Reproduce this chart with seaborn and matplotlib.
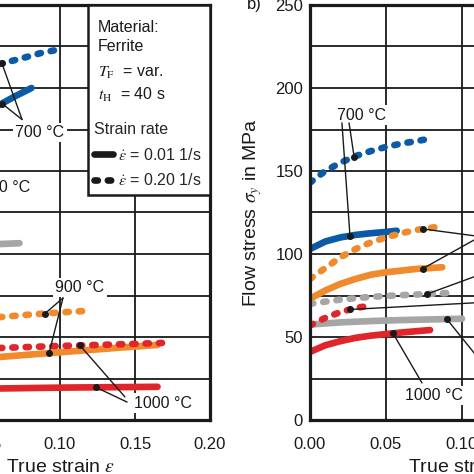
import numpy as np
import pandas as pd
import matplotlib
matplotlib.use("Agg")
import matplotlib.pyplot as plt
from matplotlib.lines import Line2D
from matplotlib.patches import Rectangle
import seaborn as sns

# -------------------------------------------------------------------------
# Datos (strain en -, stress en MPa)
# panel a) (solo visible en parte)
# -------------------------------------------------------------------------
a_eps_700_fast = [0.00, 0.01, 0.02, 0.04, 0.06, 0.073, 0.087, 0.098]
a_sig_700_fast = [175, 190, 198, 208, 214.5, 217.5, 221, 223]
a_eps_700_slow = [0.00, 0.02, 0.04, 0.06, 0.07, 0.081]
a_sig_700_slow = [140, 165, 180, 190, 195, 200]
a_eps_800_slow = [0.00, 0.02, 0.04, 0.06, 0.073]
a_sig_800_slow = [95, 102, 105, 106, 106.5]
a_eps_900_fast = [0.00, 0.02, 0.04, 0.06, 0.08, 0.10, 0.117]
a_sig_900_fast = [50, 56, 59, 62, 63.5, 64.8, 65.7]
a_eps_900_slow = [0.00, 0.02, 0.04, 0.06, 0.10, 0.14, 0.165]
a_sig_900_slow = [28, 33, 36, 38, 40.8, 43.6, 45.2]
a_eps_1000_fast = [0.00, 0.02, 0.05, 0.06, 0.10, 0.14, 0.168]
a_sig_1000_fast = [36, 40, 42.5, 43.4, 44.6, 45.6, 46.4]
a_eps_1000_slow = [0.00, 0.02, 0.06, 0.10, 0.165]
a_sig_1000_slow = [14, 17, 19, 19.5, 20]

# panel b)
b_eps_700_fast = [0.00, 0.01, 0.02, 0.03, 0.04, 0.05, 0.06, 0.07, 0.079]
b_sig_700_fast = [143, 150, 155, 159, 162, 164.5, 166.5, 168, 169.5]
b_eps_700_slow = [0.00, 0.01, 0.02, 0.03, 0.04, 0.05, 0.057]
b_sig_700_slow = [103, 107.5, 110, 111.5, 112.5, 113.3, 114]
b_eps_800_fast = [0.00, 0.01, 0.02, 0.04, 0.06, 0.08, 0.091]
b_sig_800_fast = [70, 71.3, 72.5, 74.2, 75.2, 76, 76.5]
b_eps_800_slow = [0.00, 0.02, 0.04, 0.06, 0.08, 0.10]
b_sig_800_slow = [57.5, 58.8, 59.6, 60.2, 60.6, 61]
b_eps_900_fast = [0.00, 0.01, 0.02, 0.03, 0.04, 0.05, 0.06, 0.07, 0.085]
b_sig_900_fast = [85, 91.5, 98, 103, 107, 110, 112.5, 114.5, 116.5]
b_eps_900_slow = [0.00, 0.01, 0.02, 0.03, 0.04, 0.05, 0.06, 0.07, 0.087]
b_sig_900_slow = [73, 78, 82, 85, 87.5, 89, 90, 91, 92]
b_eps_1000_fast = [0.00, 0.01, 0.02, 0.03, 0.037]
b_sig_1000_fast = [57, 61.5, 65, 67.5, 68.5]
b_eps_1000_slow = [0.00, 0.01, 0.02, 0.03, 0.04, 0.05, 0.06, 0.079]
b_sig_1000_slow = [41, 45, 47.5, 49.5, 50.8, 51.8, 52.7, 54.2]

temperaturas = ["700 °C", "800 °C", "900 °C", "1000 °C"]
colores = ["#0a5aa6", "#a6a6a6", "#f08a2c", "#e1262b"]
rates = ["0.01", "0.20"]
x_ticks = [0.00, 0.05, 0.10, 0.15, 0.20]
y_ticks = [0, 50, 100, 150, 200, 250]

curvas_a = {
    ("700 °C", "0.20"): (a_eps_700_fast, a_sig_700_fast),
    ("700 °C", "0.01"): (a_eps_700_slow, a_sig_700_slow),
    ("800 °C", "0.01"): (a_eps_800_slow, a_sig_800_slow),
    ("900 °C", "0.20"): (a_eps_900_fast, a_sig_900_fast),
    ("900 °C", "0.01"): (a_eps_900_slow, a_sig_900_slow),
    ("1000 °C", "0.20"): (a_eps_1000_fast, a_sig_1000_fast),
    ("1000 °C", "0.01"): (a_eps_1000_slow, a_sig_1000_slow),
}
curvas_b = {
    ("700 °C", "0.20"): (b_eps_700_fast, b_sig_700_fast),
    ("700 °C", "0.01"): (b_eps_700_slow, b_sig_700_slow),
    ("900 °C", "0.20"): (b_eps_900_fast, b_sig_900_fast),
    ("900 °C", "0.01"): (b_eps_900_slow, b_sig_900_slow),
    ("800 °C", "0.20"): (b_eps_800_fast, b_sig_800_fast),
    ("800 °C", "0.01"): (b_eps_800_slow, b_sig_800_slow),
    ("1000 °C", "0.20"): (b_eps_1000_fast, b_sig_1000_fast),
    ("1000 °C", "0.01"): (b_eps_1000_slow, b_sig_1000_slow),
}

# etiquetas: (texto, posición, [(inicio de la línea guía, curva, strain del punto)])
etiquetas_a = [
    ("700 °C", (0.0867, 173), [((0.0747, 181), ("700 °C", "0.20"), 0.0613),
                               ((0.0747, 181), ("700 °C", "0.01"), 0.0613)]),
    ("800 °C", (0.0637, 140), []),
    ("900 °C", (0.1133, 80), [((0.102, 73.5), ("900 °C", "0.20"), 0.090),
                              ((0.102, 73.5), ("900 °C", "0.01"), 0.0927)]),
    ("1000 °C", (0.1687, 10.2), [((0.1433, 13.9), ("1000 °C", "0.20"), 0.1133),
                                 ((0.1447, 10.8), ("1000 °C", "0.01"), 0.124)]),
]
etiquetas_b = [
    ("700 °C", (0.0336, 183.7), [((0.021, 179), ("700 °C", "0.01"), 0.0263),
                                 ((0.0257, 179), ("700 °C", "0.20"), 0.029)]),
    ("1000 °C", (0.0813, 15), [((0.0737, 22.3), ("1000 °C", "0.01"), 0.0546)]),
    ("", (0.13, 110), [((0.112, 110.5), ("900 °C", "0.20"), 0.0743),
                       ((0.112, 110.5), ("900 °C", "0.01"), 0.0743),
                       ((0.125, 92), ("800 °C", "0.20"), 0.077),
                       ((0.125, 71.4), ("1000 °C", "0.20"), 0.0263),
                       ((0.118, 29), ("800 °C", "0.01"), 0.090)]),
]

# -------------------------------------------------------------------------
# Estilo
# -------------------------------------------------------------------------
sns.set_theme(style="white")
plt.rcParams["font.family"] = ["Liberation Sans", "DejaVu Sans"]
plt.rcParams["mathtext.fontset"] = "stix"
negro = "#1a1a1a"
punteado = (0.5, 1.5)
lw_curva = 4.8

fig = plt.figure(figsize=(4.74, 4.74), dpi=100)
ax_a = fig.add_axes([-90 / 474, 54 / 474, 300 / 474, 415 / 474])
ax_b = fig.add_axes([310 / 474, 54 / 474, 304 / 474, 415 / 474])


def dibujar_panel(ax, curvas, etiquetas):
    filas = []
    for (temp, rate), (eps, sig) in curvas.items():
        for e, s in zip(eps, sig):
            filas.append({"strain": e, "stress": s, "temp": temp, "rate": rate})
    df = pd.DataFrame(filas)
    sns.lineplot(data=df, x="strain", y="stress", hue="temp", style="rate",
                 palette=dict(zip(temperaturas, colores)),
                 dashes={"0.01": "", "0.20": punteado},
                 estimator=None, sort=False, lw=lw_curva, legend=False,
                 solid_capstyle="round", dash_capstyle="round", ax=ax, zorder=2)

    for texto, pos, guias in etiquetas:
        if texto:
            ax.text(pos[0], pos[1], texto, fontsize=11.5, ha="center", va="center",
                    color=negro, zorder=3,
                    bbox=dict(facecolor="white", edgecolor="none", pad=1.5))
        for inicio, clave, e_pt in guias:
            eps, sig = curvas[clave]
            s_pt = float(np.interp(e_pt, eps, sig))
            ax.annotate("", xy=(e_pt, s_pt), xytext=inicio,
                        arrowprops=dict(arrowstyle="-", color=negro, lw=1.0,
                                        shrinkA=0, shrinkB=0), zorder=3)
            ax.plot(e_pt, s_pt, "o", ms=4, color=negro, zorder=5)

    ax.set_xlim(0, 0.20)
    ax.set_ylim(0, 250)
    ax.set_xticks(x_ticks)
    ax.set_xticklabels([f"{v:.2f}" for v in x_ticks])
    ax.set_yticks(y_ticks)
    ax.set_yticks([25, 75, 125, 175, 225], minor=True)
    ax.grid(True, which="both", color=negro, lw=1.3)
    ax.set_axisbelow(True)
    ax.tick_params(which="both", length=0, labelsize=12, colors=negro)
    ax.tick_params(axis="x", pad=12)
    ax.tick_params(axis="y", pad=5)
    for s in ax.spines.values():
        s.set_linewidth(2.3)
        s.set_color(negro)
    ax.set_xlabel(r"True strain $\varepsilon$", fontsize=14, color=negro, labelpad=5)
    ax.set_ylabel(r"Flow stress $\sigma_y$ in MPa", fontsize=14, color=negro, labelpad=8)


dibujar_panel(ax_a, curvas_a, etiquetas_a)
dibujar_panel(ax_b, curvas_b, etiquetas_b)

# Cuadro de información del panel a)
ax_a.add_patch(Rectangle((0.593, 0.542), 0.407, 0.458, transform=ax_a.transAxes,
                         facecolor="white", edgecolor=negro, lw=1.8, zorder=4,
                         clip_on=False))
cabecera = [("Material:", 0.935), ("Ferrite", 0.889),
            (r"$T_\mathrm{F}$  = var.", 0.827), (r"$t_\mathrm{H}$  = 40 s", 0.771)]
for texto, y in cabecera:
    ax_a.text(0.627, y, texto, transform=ax_a.transAxes, fontsize=11.5,
              va="baseline", ha="left", color=negro, zorder=6)

manejadores = [Line2D([], [], color=negro, lw=lw_curva, solid_capstyle="round"),
               Line2D([], [], color=negro, lw=lw_curva, linestyle=(0, punteado),
                      dash_capstyle="round")]
leyenda = ax_a.legend(manejadores,
                      [r"$\dot{\varepsilon}$ = 0.01 1/s", r"$\dot{\varepsilon}$ = 0.20 1/s"],
                      title="Strain rate", loc="upper left", bbox_to_anchor=(0.612, 0.718),
                      frameon=False, alignment="left", fontsize=11.5, title_fontsize=11.5,
                      handlelength=1.2, handletextpad=0.3, labelspacing=0.6,
                      borderpad=0, borderaxespad=0)
leyenda.set_zorder(6)

ax_b.text(-0.207, 1.0, "b)", transform=ax_b.transAxes, fontsize=12,
          ha="left", va="center", color=negro)

fig.savefig("out.png", dpi=100)
